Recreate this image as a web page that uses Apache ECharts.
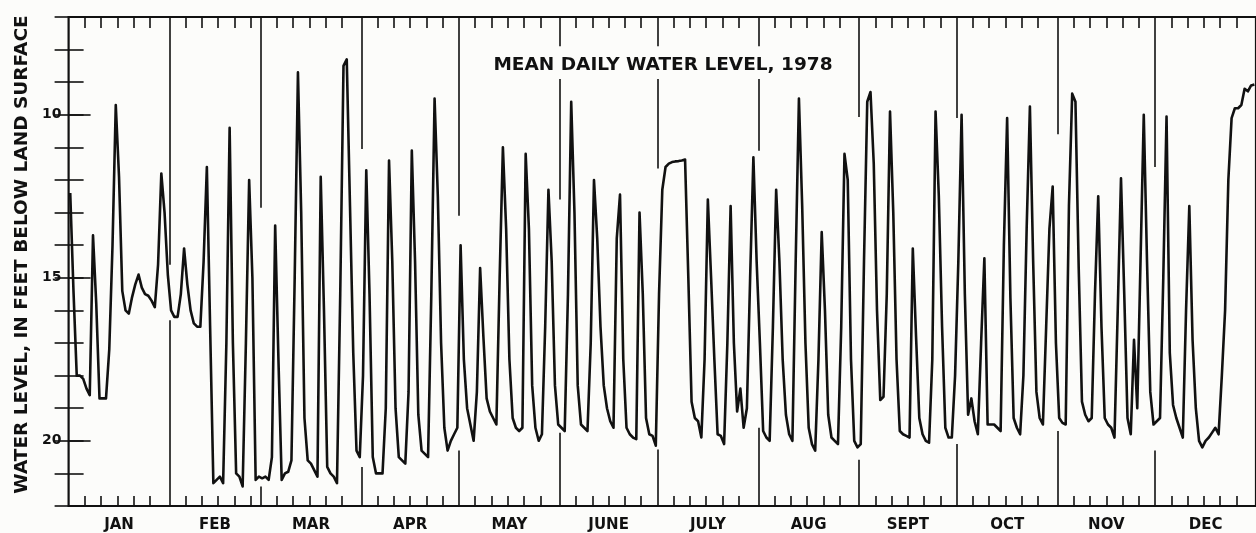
<!DOCTYPE html>
<html><head><meta charset="utf-8">
<script src="https://cdn.jsdelivr.net/npm/echarts@6/dist/echarts.min.js"></script>
<style>html,body{margin:0;padding:0;background:#fcfcfa;} #c{width:1256px;height:533px;}</style>
</head><body><div id="c"></div>
<script>
// Mean daily water level, feet below land surface, 1978
const jan = [12.4, 15.4, 18.0, 18.0, 18.1, 18.4, 18.6, 13.7, 15.8, 18.7, 18.7, 18.7, 17.2, 14.0, 9.7, 11.9, 15.4, 16.0, 16.1, 15.6, 15.2, 14.9, 15.3, 15.5, 15.55, 15.7, 15.9, 14.6, 11.8, 13.0, 14.9];
const feb = [16.0, 16.2, 16.2, 15.5, 14.1, 15.2, 16.0, 16.4, 16.5, 16.5, 14.5, 11.6, 16.5, 21.3, 21.2, 21.1, 21.3, 17.0, 10.4, 17.0, 21.0, 21.1, 21.4, 17.0, 12.0, 15.0, 21.2, 21.1];
const mar = [21.15, 21.1, 21.2, 20.5, 13.4, 17.5, 21.2, 21.0, 20.95, 20.6, 15.0, 8.7, 13.0, 19.3, 20.6, 20.7, 20.9, 21.1, 11.9, 16.0, 20.8, 21.0, 21.1, 21.3, 15.5, 8.5, 8.3, 12.8, 17.3, 20.3, 20.5];
const apr = [18.0, 11.7, 15.5, 20.5, 21.0, 21.0, 21.0, 19.0, 11.4, 14.5, 19.0, 20.5, 20.6, 20.7, 18.5, 11.1, 14.5, 19.2, 20.3, 20.4, 20.5, 15.5, 9.5, 12.5, 17.0, 19.6, 20.3, 20.0, 19.8, 19.6];
const may = [14.0, 17.5, 19.0, 19.5, 20.0, 18.5, 14.7, 16.8, 18.7, 19.1, 19.3, 19.5, 15.0, 11.0, 13.5, 17.5, 19.3, 19.6, 19.7, 19.6, 11.2, 13.5, 18.3, 19.6, 20.0, 19.8, 16.5, 12.3, 14.5, 18.3, 19.5];
const jun = [19.6, 19.7, 15.5, 9.6, 13.0, 18.3, 19.5, 19.6, 19.7, 17.0, 12.0, 13.8, 16.5, 18.3, 19.0, 19.4, 19.6, 13.8, 12.45, 17.5, 19.6, 19.8, 19.9, 19.95, 13.0, 15.5, 19.3, 19.8, 19.85, 20.15];
const jul = [15.5, 12.3, 11.6, 11.5, 11.45, 11.43, 11.42, 11.4, 11.37, 15.0, 18.8, 19.3, 19.4, 19.9, 17.5, 12.6, 15.0, 17.5, 19.8, 19.85, 20.1, 17.0, 12.8, 17.0, 19.1, 18.4, 19.6, 19.0, 15.0, 11.3, 14.5];
const aug = [17.0, 19.7, 19.9, 20.0, 16.5, 12.3, 14.5, 17.5, 19.2, 19.8, 20.0, 14.5, 9.5, 12.8, 17.0, 19.6, 20.1, 20.3, 17.5, 13.6, 16.0, 19.2, 19.9, 20.0, 20.1, 16.5, 11.2, 12.0, 17.5, 20.0, 20.2];
const sep = [20.1, 14.5, 9.6, 9.3, 11.5, 16.0, 18.75, 18.65, 15.5, 9.9, 13.0, 17.5, 19.7, 19.8, 19.85, 19.9, 14.1, 16.8, 19.3, 19.8, 20.0, 20.06, 17.5, 9.9, 12.5, 16.5, 19.6, 19.9, 19.9, 18.0];
const oct = [14.5, 10.0, 15.5, 19.2, 18.7, 19.4, 19.8, 17.0, 14.4, 19.5, 19.5, 19.5, 19.6, 19.7, 14.0, 10.1, 15.6, 19.3, 19.6, 19.8, 18.0, 13.5, 9.75, 14.5, 18.5, 19.3, 19.5, 16.5, 13.5, 12.2, 17.0];
const nov = [19.3, 19.45, 19.5, 12.8, 9.35, 9.6, 14.7, 18.8, 19.2, 19.4, 19.3, 15.5, 12.5, 16.5, 19.3, 19.5, 19.6, 19.9, 16.0, 11.95, 15.5, 19.3, 19.8, 16.9, 19.0, 14.5, 10.0, 14.5, 18.5, 19.5];
const dec = [19.4, 19.3, 15.0, 10.05, 17.3, 18.9, 19.3, 19.6, 19.9, 16.0, 12.8, 16.9, 19.0, 20.0, 20.2, 20.0, 19.9, 19.75, 19.6, 19.8, 18.0, 16.0, 12.0, 10.1, 9.8, 9.8, 9.7, 9.2, 9.28, 9.1, 9.07];

const monthNames = ['JAN', 'FEB', 'MAR', 'APR', 'MAY', 'JUNE', 'JULY', 'AUG', 'SEPT', 'OCT', 'NOV', 'DEC'];
const monthLengths = [31, 28, 31, 30, 31, 30, 31, 31, 30, 31, 30, 31];
const yTickLabels = [10, 15, 20];
const titleText = 'MEAN DAILY WATER LEVEL, 1978';
const yAxisTitle = 'WATER LEVEL, IN FEET BELOW LAND SURFACE';

// openings left in each month rule (feet) where the hydrograph passes
const ruleOpenings = [[14.6, 16.3], [12.85, 21.4], [11.05, 20.8], [13.1, 20.3], [12.6, 19.75], [11.65, 20.27], [11.1, 19.6], [10.07, 20.58], [10.1, 20.1], [10.6, 19.7], [11.6, 20.3]];
const titleOpening = [7.9, 8.9];
const rulesUnderTitle = [4, 5, 6];

const Y_MIN = 7, Y_MAX = 22;
const FONT = "'DejaVu Sans', sans-serif";
const INK = '#111';

const monthStarts = [];
let acc = 0;
for (const n of monthLengths) { monthStarts.push(acc); acc += n; }
const daily = [].concat(jan, feb, mar, apr, may, jun, jul, aug, sep, oct, nov, dec);
const seriesData = daily.map((v, i) => [i + 0.5, v]);
const monthMid = monthStarts.map((s, i) => s + monthLengths[i] / 2);
const tickDays = [];
monthStarts.forEach(s => { for (const k of [5, 10, 15, 20, 25]) tickDays.push(s + k); });

const ruleData = [];
monthStarts.slice(1).forEach((d, i) => {
  const [a, b] = ruleOpenings[i];
  if (rulesUnderTitle.includes(i)) {
    ruleData.push([{ coord: [d, Y_MIN] }, { coord: [d, titleOpening[0]] }]);
    ruleData.push([{ coord: [d, titleOpening[1]] }, { coord: [d, a] }]);
  } else {
    ruleData.push([{ coord: [d, Y_MIN] }, { coord: [d, a] }]);
  }
  ruleData.push([{ coord: [d, b] }, { coord: [d, Y_MAX] }]);
});

const tickStyle = { color: INK, width: 1.6 };
const chart = echarts.init(document.getElementById('c'));
chart.setOption({
  animation: false,
  backgroundColor: '#fcfcfa',
  title: {
    text: titleText, left: 658, top: 51, textAlign: 'center',
    textStyle: { fontFamily: FONT, fontWeight: 'bold', fontSize: 18.5, color: INK }
  },
  grid: { left: 68.6, top: 17, width: 1191, height: 489, show: true, borderColor: INK, borderWidth: 2.2, backgroundColor: 'transparent' },
  xAxis: [
    {
      type: 'value', min: 0, max: 365, position: 'bottom',
      axisLine: { show: false }, splitLine: { show: false },
      axisTick: { show: true, inside: true, length: 10, customValues: tickDays, lineStyle: tickStyle },
      axisLabel: {
        show: true, customValues: monthMid, margin: 12,
        formatter: v => monthNames[monthMid.indexOf(v)] || '',
        fontFamily: FONT, fontWeight: 'bold', fontSize: 15, color: INK
      }
    },
    {
      type: 'value', min: 0, max: 365, position: 'top',
      axisLine: { show: false }, splitLine: { show: false },
      axisTick: { show: true, inside: true, length: 11, customValues: tickDays, lineStyle: tickStyle },
      axisLabel: { show: false }
    }
  ],
  yAxis: [
    {
      type: 'value', min: Y_MIN, max: Y_MAX, interval: 1, inverse: true, position: 'left',
      axisLine: { show: false }, splitLine: { show: false },
      axisTick: { show: true, inside: true, length: 15, lineStyle: tickStyle },
      axisLabel: {
        show: true, customValues: yTickLabels, margin: 7,
        fontFamily: FONT, fontWeight: 'bold', fontSize: 14, color: INK
      },
      name: yAxisTitle, nameLocation: 'middle', nameGap: 27, nameRotate: 90,
      nameTextStyle: { fontFamily: FONT, fontWeight: 'bold', fontSize: 18.5, color: INK, padding: [0, 0, 0, 14] }
    },
    {
      type: 'value', min: Y_MIN, max: Y_MAX, interval: 1, inverse: true, position: 'right',
      axisLine: { show: false }, splitLine: { show: false },
      axisTick: { show: true, inside: true, length: 14, lineStyle: tickStyle },
      axisLabel: { show: false }
    },
    {
      type: 'value', min: Y_MIN, max: Y_MAX, inverse: true, position: 'left', offset: 0,
      axisLine: { show: false }, splitLine: { show: false },
      axisTick: { show: true, inside: true, length: 22, customValues: yTickLabels, lineStyle: tickStyle },
      axisLabel: { show: false }
    }
  ],
  series: [{
    type: 'line', data: seriesData, xAxisIndex: 0, yAxisIndex: 0,
    showSymbol: false, symbol: 'none', silent: true,
    lineStyle: { color: INK, width: 2.6, join: 'round' },
    markLine: {
      silent: true, symbol: ['none', 'none'], label: { show: false },
      lineStyle: { color: INK, width: 1.6, type: 'solid' },
      data: ruleData
    }
  }]
});
</script>
</body></html>
